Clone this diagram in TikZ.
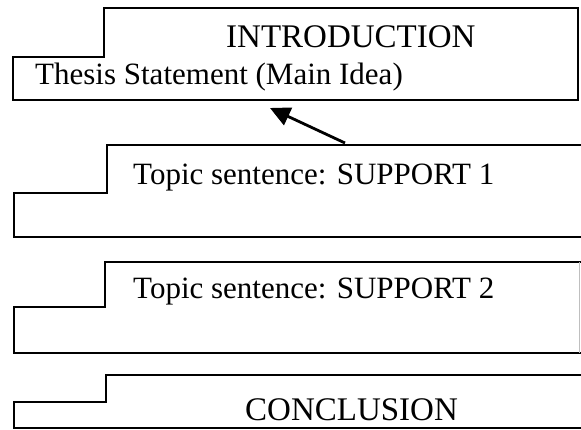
\documentclass[tikz,border=0pt]{standalone}
\usepackage{fontspec}
\setmainfont{Liberation Serif}
\usetikzlibrary{arrows.meta}
\begin{document}
\begin{tikzpicture}[x=1pt,y=-1pt,
  boxline/.style={line width=1.6pt, line join=miter},
  lbl/.style={anchor=base west, inner sep=0pt},
  capsfont/.style={font=\fontsize{33}{38}\selectfont},
  textfont/.style={font=\fontsize{31}{36}\selectfont},
  pointer/.style={line width=2.8pt, -{Triangle[length=20pt,width=19pt]}}]
\useasboundingbox[fill=white] (0,0) rectangle (581,429);
% Introduction box
\draw[boxline] (13,57) -- (104,57) -- (104,8) -- (578,8) -- (578,100) -- (13,100) -- cycle;
\node[lbl,capsfont] (intro) at (226,47) {INTRODUCTION};
\node[lbl,textfont] (thesis) at (35,84) {Thesis Statement (Main Idea)};
% Support 1
\draw[boxline] (581,145) -- (107,145) -- (107,193) -- (14,193) -- (14,237) -- (581,237);
\node[lbl,textfont] (s1) at (133,184) {Topic sentence: SUPPORT 1};
% Support 2
\draw[boxline] (581,262) -- (105,262) -- (105,307) -- (14,307) -- (14,353) -- (581,353);
\draw[line width=0.8pt, black!25] (579,262) -- (579,353);
\node[lbl,textfont] (s2) at (133,298) {Topic sentence: SUPPORT 2};
% Conclusion
\draw[boxline] (581,375) -- (106,375) -- (106,402) -- (14,402) -- (14,428) -- (581,428);
\node[lbl,capsfont] (concl) at (245,420) {CONCLUSION};
% Arrow
\coordinate (tail) at (345,143);
\coordinate (tip) at (270,108);
\draw[pointer] (tail) -- (tip);
\end{tikzpicture}
\end{document}
